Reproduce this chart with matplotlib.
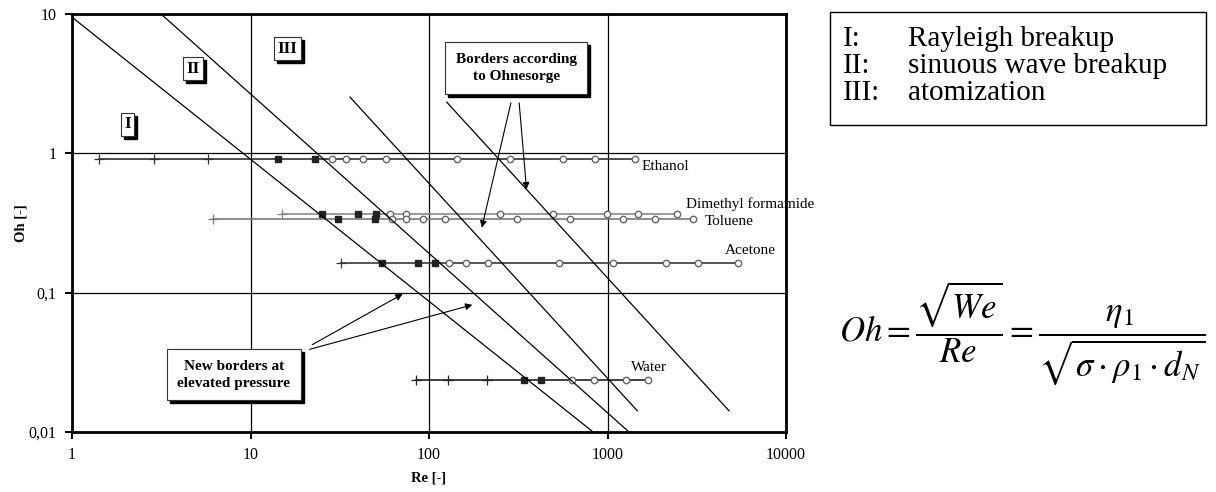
import numpy as np
import matplotlib
matplotlib.use('Agg')
from matplotlib import pyplot
from matplotlib import transforms
from matplotlib.patches import Rectangle

pyplot.rcParams['font.family'] = ['Liberation Serif', 'DejaVu Serif']
pyplot.rcParams['mathtext.fontset'] = 'stix'

# ---------------- data ----------------
# each fluid: Re values per marker type, one Oh value
eth_oh = 0.916
eth_plus = [1.42, 2.88, 5.76]
eth_sq = [14.2, 22.9]
eth_circ = [28.5, 34.3, 42.9, 57.2, 143, 284, 565, 851, 1426]

dmf_oh = 0.365
dmf_plus = [15.0]
dmf_sq = [25.2, 40.0, 50.5]
dmf_circ = [60.1, 74.8, 250, 497, 993, 1489, 2450]

tol_oh = 0.336
tol_plus = [6.19]
tol_sq = [30.8, 49.8]
tol_circ = [61.8, 74.3, 92.5, 123, 310, 617, 1227, 1845, 3026]

ace_oh = 0.162
ace_plus = [32.0]
ace_sq = [54.7, 86.8, 108]
ace_circ = [129, 162, 215, 537, 1069, 2135, 3200, 5360]

wat_oh = 0.0237
wat_plus = [84.2, 128, 212]
wat_sq = [341, 422]
wat_circ = [635, 844, 1270, 1693]

# border lines (Re, Oh end points)
new_border_1_re = [1.0, 815]
new_border_1_oh = [9.49, 0.0102]
new_border_2_re = [3.19, 1297]
new_border_2_oh = [9.87, 0.0102]
ohn_border_1_re = [36.1, 1469]
ohn_border_1_oh = [2.53, 0.0142]
ohn_border_2_re = [125.7, 4797]
ohn_border_2_oh = [2.33, 0.0142]

x_ticks = [1, 10, 100, 1000, 10000]
x_tick_labels = ['1', '10', '100', '1000', '10000']
y_ticks = [0.01, 0.1, 1, 10]
y_tick_labels = ['0,01', '0,1', '1', '10']

# ---------------- figure ----------------
fig = pyplot.figure(figsize=(12.16, 4.92), dpi=100)
ax = fig.add_axes([72/1216, 60/492, 714/1216, 418/492])
ax.set_xscale('log')
ax.set_yscale('log')
ax.set_xlim(1, 10000)
ax.set_ylim(0.01, 10)

fluids = [
    (eth_oh, eth_plus, eth_sq, eth_circ, '#303030'),
    (dmf_oh, dmf_plus, dmf_sq, dmf_circ, '#8a8a8a'),
    (tol_oh, tol_plus, tol_sq, tol_circ, '#7a7a7a'),
    (ace_oh, ace_plus, ace_sq, ace_circ, '#383838'),
    (wat_oh, wat_plus, wat_sq, wat_circ, '#202020'),
]
for oh, p, s, c, col in fluids:
    all_re = p + s + c
    ax.plot(all_re, [oh] * len(all_re), color=col, linewidth=1.2, zorder=3)
    ax.plot(p, [oh] * len(p), linestyle='none', marker='+', markersize=7,
            markeredgewidth=0.9, color=col, zorder=4)
    ax.plot(s, [oh] * len(s), linestyle='none', marker='s', markersize=5,
            color='#222222', zorder=5)
    ax.plot(c, [oh] * len(c), linestyle='none', marker='o', markersize=4.6,
            markerfacecolor='white', markeredgecolor='#666666',
            markeredgewidth=1.0, zorder=5)

for re, oh in [(new_border_1_re, new_border_1_oh), (new_border_2_re, new_border_2_oh),
               (ohn_border_1_re, ohn_border_1_oh), (ohn_border_2_re, ohn_border_2_oh)]:
    ax.plot(re, oh, color='black', linewidth=0.9, zorder=6)

# axes styling
ax.grid(True, which='major', color='black', linewidth=0.9)
ax.minorticks_off()
ax.set_xticks(x_ticks)
ax.set_xticklabels(x_tick_labels, fontsize=11.5)
ax.set_yticks(y_ticks)
ax.set_yticklabels(y_tick_labels, fontsize=11.5)
ax.tick_params(axis='both', which='major', direction='out', length=5, width=1.5, pad=6)
for sp in ax.spines.values():
    sp.set_linewidth(2.0)
ax.set_xlabel('Re [-]', fontsize=10.5, fontweight='bold')
ax.set_ylabel('Oh [-]', fontsize=10.5, fontweight='bold')
ax.xaxis.set_label_coords((429 - 72) / 714, -(471 - 432) / 418)
ax.yaxis.set_label_coords(-(72 - 28) / 714, 0.5)

# fluid names
names = [('Ethanol', 0.798, 0.635), ('Dimethyl formamide', 0.8595, 0.5455),
         ('Toluene', 0.8866, 0.503), ('Acetone', 0.9146, 0.4354), ('Water', 0.7829, 0.1548)]
for name, xf, yf in names:
    ax.text(xf, yf, name, transform=ax.transAxes, fontsize=11, ha='left', va='center',
            zorder=8)

boxed = []


def shadow_text(x, y, s, fontsize, pad, ls=1.2):
    t = ax.text(x, y, s, transform=ax.transAxes, fontsize=fontsize, fontweight='bold',
                ha='center', va='center', zorder=10, linespacing=ls,
                bbox=dict(boxstyle='square,pad=%s' % pad, facecolor='white',
                          edgecolor='#333333', linewidth=0.8))
    boxed.append(t)


shadow_text(0.078, 0.736, 'I', 12.5, 0.2)
shadow_text(0.169, 0.869, 'II', 12.5, 0.2)
shadow_text(0.302, 0.917, 'III', 12.5, 0.2)
shadow_text(0.622, 0.871, 'Borders according\nto Ohnesorge', 11, 0.7, 1.4)
shadow_text(0.2265, 0.137, 'New borders at\nelevated pressure', 11, 0.7, 1.4)

arrow = dict(arrowstyle='-|>', color='black', linewidth=0.8, mutation_scale=10)
ax.annotate('', xy=(196, 0.28), xytext=(290, 2.41), arrowprops=arrow, zorder=7)
ax.annotate('', xy=(353, 0.527), xytext=(319, 2.41), arrowprops=arrow, zorder=7)
ax.annotate('', xy=(73.4, 0.1), xytext=(21.5, 0.0414), arrowprops=arrow, zorder=7)
ax.annotate('', xy=(181, 0.0828), xytext=(20.7, 0.0387), arrowprops=arrow, zorder=7)

# legend box with regime names
fig.patches.append(Rectangle((830/1216, 1 - 125/492), 376/1216, 113/492,
                             transform=fig.transFigure, facecolor='white',
                             edgecolor='black', linewidth=1.0))
regimes = [('I:', 'Rayleigh breakup'), ('II:', 'sinuous wave breakup'), ('III:', 'atomization')]
for i, (num, txt) in enumerate(regimes):
    yy = 1 - (46 + i * 27) / 492
    fig.text(843/1216, yy, num, fontsize=21, ha='left', va='baseline')
    fig.text(908/1216, yy, txt, fontsize=21, ha='left', va='baseline')

# Ohnesorge number definition
fig.text(1022/1216, 1 - 333/492,
         r'$Oh = \dfrac{\sqrt{We}}{Re} = \dfrac{\eta_1}{\sqrt{\sigma \cdot \rho_1 \cdot d_N}}$',
         fontsize=25, ha='center', va='center')

# drop shadows behind the boxed labels
fig.canvas.draw()
rend = fig.canvas.get_renderer()
for t in boxed:
    bb = t.get_bbox_patch().get_window_extent(rend)
    ax.add_patch(Rectangle((bb.x0 + 3, bb.y0 - 3), bb.width, bb.height,
                           transform=transforms.IdentityTransform(), facecolor='black',
                           edgecolor='black', zorder=9, clip_on=False))

pyplot.savefig('out.png', dpi=100)
pyplot.close()
